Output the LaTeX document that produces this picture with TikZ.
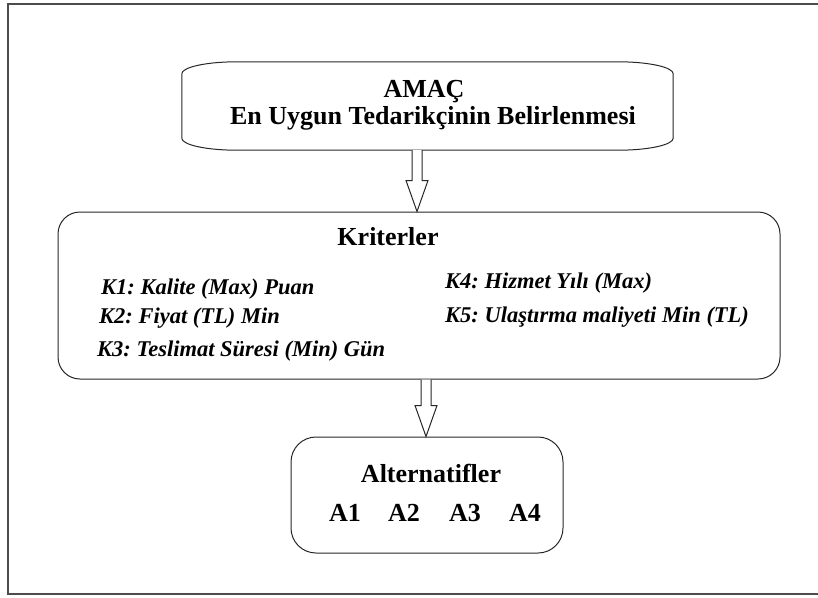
\documentclass[tikz,border=0pt]{standalone}
\usepackage{fontspec}
\setmainfont{Liberation Serif}
\usetikzlibrary{%
  positioning
 ,calc
}
\tikzstyle{frame}=[draw=black!70,line width=1.8pt]
\tikzstyle{box}=[draw=black!85,line width=1pt,inner sep=0pt]
\tikzstyle{ttl}=[inner sep=0pt,font=\fontsize{26}{26}\selectfont\bfseries]
\tikzstyle{crt}=[anchor=west,inner sep=0pt,font=\fontsize{22.5}{23}\selectfont\bfseries\itshape]
\tikzstyle{blk}=[draw=black!85,line width=1pt,fill=white]
% hollow block arrow: x position, from node, to node
\newcommand{\blockarrow}[3]{%
  \draw[blk] let \p1=(#2.south), \p2=(#3.north) in
    (#1-5pt,\y1) -- (#1-5pt,\y2+31pt) -- (#1-11pt,\y2+31pt) -- (#1,\y2)
    -- (#1+11pt,\y2+31pt) -- (#1+5pt,\y2+31pt) -- (#1+5pt,\y1);}
\frenchspacing

\begin{document}
\begin{tikzpicture}[x=1pt,y=-1pt]
  \useasboundingbox (0,0) rectangle (818,597);
  \draw[frame] (830,4) -- (8,4) -- (8,594) -- (830,594);

  % goal
  \node[minimum width=491pt,minimum height=88pt,inner sep=0pt] (amac) at (427.5,106) {};
  \draw[box] let \p1=(amac.north west), \p2=(amac.south east) in
    (\x1,\y1-12pt) arc[start angle=180,end angle=90,x radius=55pt,y radius=12pt]
    -- (\x2-55pt,\y1) arc[start angle=90,end angle=0,x radius=55pt,y radius=12pt]
    -- (\x2,\y2+12pt) arc[start angle=0,end angle=-90,x radius=55pt,y radius=12pt]
    -- (\x1+55pt,\y2) arc[start angle=270,end angle=180,x radius=55pt,y radius=12pt]
    -- cycle;
  \node[ttl] (amac_1) at (424,92) {AMAÇ};
  \node[ttl] (amac_2) at (433,118) {En Uygun Tedarikçinin Belirlenmesi};

  % criteria
  \node[box,rounded corners=22pt,minimum width=722pt,minimum height=167pt] (krit) at (419,295.5) {};
  \node[ttl] (krit_t) at (388,237) {Kriterler};
  \node[crt] (k_1) at (101,289) {K1: Kalite (Max) Puan};
  \node[crt] (k_2) at (99,318) {K2: Fiyat (TL) Min};
  \node[crt] (k_3) at (97,351) {K3: Teslimat Süresi (Min) Gün};
  \node[crt] (k_4) at (445,283) {K4: Hizmet Yılı (Max)};
  \node[crt] (k_5) at (445,317) {K5: Ulaştırma maliyeti Min (TL)};

  % alternatives
  \node[box,rounded corners=25pt,minimum width=272pt,minimum height=116pt] (alt) at (427,495) {};
  \node[ttl] (alt_t) at (431,473) {Alternatifler};
  \node[ttl] (a_1) at (345,513) {A1};
  \node[ttl] (a_2) at (404,513) {A2};
  \node[ttl] (a_3) at (465,513) {A3};
  \node[ttl] (a_4) at (525,513) {A4};

  \blockarrow{417pt}{amac}{krit}
  \blockarrow{426pt}{krit}{alt}
\end{tikzpicture}
\end{document}
